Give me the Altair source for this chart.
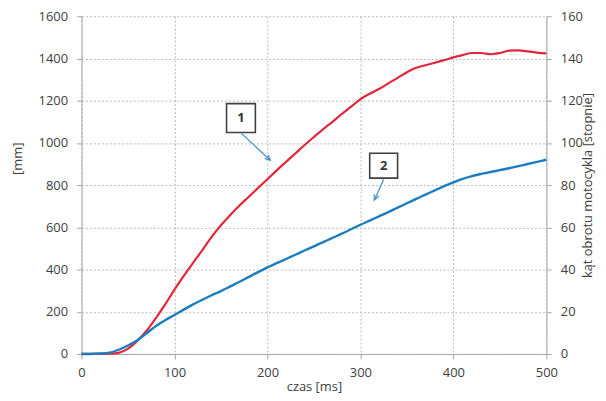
import altair as alt
import pandas as pd

# ---- data ----
czas = list(range(0, 501, 10))
droga_mm = [0, 0, 0, 1, 5, 25, 62, 110, 170, 235,
            305, 370, 432, 492, 555, 610, 658, 703, 745, 787,
            828, 870, 910, 950, 990, 1028, 1065, 1100, 1137, 1172,
            1207, 1233, 1255, 1282, 1308, 1335, 1356, 1368, 1380, 1392,
            1405, 1416, 1426, 1426, 1420, 1426, 1437, 1438, 1434, 1428,
            1424]
kat_stopnie = [0, 0, 0.2, 0.6, 2, 4, 6.5, 9.8, 13.2, 16,
               18.5, 21, 23.5, 25.7, 27.8, 29.8, 32, 34.2, 36.5, 38.8,
               41, 43, 45, 47, 49, 51, 53, 55, 57, 59.1,
               61.2, 63.2, 65.2, 67.2, 69.3, 71.4, 73.5, 75.5, 77.5, 79.5,
               81.3, 83, 84.3, 85.3, 86.2, 87.1, 88, 89, 90, 91,
               92]

x_ticks = [0, 100, 200, 300, 400, 500]
y_left_ticks = [0, 200, 400, 600, 800, 1000, 1200, 1400, 1600]
y_right_ticks = [0, 20, 40, 60, 80, 100, 120, 140, 160]

# annotation callouts (data units of the left axis)
ann_label = ["1", "2"]
ann_x = [171.5, 325]
ann_y = [1118, 892]
ann_box_x = [156, 310]
ann_box_x2 = [187, 340]
ann_box_y = [1186, 951]
ann_box_y2 = [1049, 833]
arrow_x = [172, 325]
arrow_y = [1045, 828]
arrow_x2 = [203, 315]
arrow_y2 = [918, 729]
arrow_angle = [133, 203]

df = pd.DataFrame({"czas": czas, "mm": droga_mm, "deg": kat_stopnie})
ann = pd.DataFrame({"label": ann_label, "x": ann_x, "y": ann_y,
                    "bx": ann_box_x, "bx2": ann_box_x2,
                    "by": ann_box_y, "by2": ann_box_y2,
                    "ax": arrow_x, "ay": arrow_y, "ax2": arrow_x2, "ay2": arrow_y2,
                    "ang": arrow_angle})

FONT = "Open Sans"
TXT = "#404040"
AX = "#a6a6a6"
RED = "#e0283a"
BLUE = "#1a7dc0"
ARROW = "#4a94c8"

xs = alt.Scale(domain=[0, 500], nice=False)
yl = alt.Scale(domain=[0, 1600], nice=False)
yr = alt.Scale(domain=[0, 160], nice=False)

x_axis = alt.Axis(values=x_ticks, title="czas [ms]", grid=True, gridDash=[2, 2],
                  gridColor="#b8b8b8", domainColor=AX, tickColor=AX, tickSize=5,
                  labelPadding=8, titlePadding=1, labelFlush=False, format="d",
                  labelFontSize=13, titleFontSize=13, labelFont=FONT, titleFont=FONT,
                  labelColor=TXT, titleColor=TXT, titleFontWeight="normal")

yl_axis = alt.Axis(values=y_left_ticks, title="[mm]", grid=True, gridDash=[2, 2],
                   gridColor="#b8b8b8", domainColor=AX, tickColor=AX, tickSize=5,
                   labelPadding=9, labelFontSize=13, titleFontSize=13, format="d",
                   labelFont=FONT, titleFont=FONT, labelColor=TXT, titleColor=TXT,
                   titleFontWeight="normal", titleAngle=270, titleX=-64, titleY=143,
                   titleAlign="center", titleBaseline="middle")

yr_axis = alt.Axis(values=y_right_ticks, title="kąt obrotu motocykla [stopnie]",
                   orient="right", grid=False, domainColor=AX, tickColor=AX, tickSize=5,
                   labelPadding=9, labelFontSize=13, titleFontSize=13, format="d",
                   labelFont=FONT, titleFont=FONT, labelColor=TXT, titleColor=TXT,
                   titleFontWeight="normal", titleAngle=270, titleX=41, titleY=170,
                   titleAlign="center", titleBaseline="middle")

red = alt.Chart(df).mark_line(color=RED, strokeWidth=2.2, interpolate="monotone").encode(
    x=alt.X("czas:Q", scale=xs, axis=x_axis),
    y=alt.Y("mm:Q", scale=yl, axis=yl_axis),
)

boxes = alt.Chart(ann).mark_rect(fill="white", stroke="#404040", strokeWidth=1.6).encode(
    x=alt.X("bx:Q", scale=xs), x2="bx2:Q",
    y=alt.Y("by:Q", scale=yl), y2="by2:Q",
)

texts = alt.Chart(ann).mark_text(font=FONT, fontSize=13, fontWeight="bold", color="#333333").encode(
    x=alt.X("x:Q", scale=xs), y=alt.Y("y:Q", scale=yl), text="label:N"
)

arrows = alt.Chart(ann).mark_rule(color=ARROW, strokeWidth=1.3).encode(
    x=alt.X("ax:Q", scale=xs), y=alt.Y("ay:Q", scale=yl), x2="ax2:Q", y2="ay2:Q"
)

heads = alt.Chart(ann).mark_point(shape="M -0.6 1.3 L 0 0 L 0.6 1.3", filled=False,
                                  stroke=ARROW, strokeWidth=1.3, size=70, opacity=1).encode(
    x=alt.X("ax2:Q", scale=xs), y=alt.Y("ay2:Q", scale=yl), angle=alt.Angle("ang:Q", scale=None)
)

left = alt.layer(red, boxes, arrows, heads, texts)

blue = alt.Chart(df).mark_line(color=BLUE, strokeWidth=2.4, interpolate="monotone").encode(
    x=alt.X("czas:Q", scale=xs),
    y=alt.Y("deg:Q", scale=yr, axis=yr_axis),
)

chart = alt.layer(left, blue).resolve_scale(y="independent").properties(
    width=468, height=340,
    autosize=alt.AutoSizeParams(type="none"),
    padding={"left": 74, "top": 7, "right": 52, "bottom": 39},
    background="white",
).configure_view(stroke=None)

chart.save("out.html", embed_options={"renderer": "svg", "actions": False})
